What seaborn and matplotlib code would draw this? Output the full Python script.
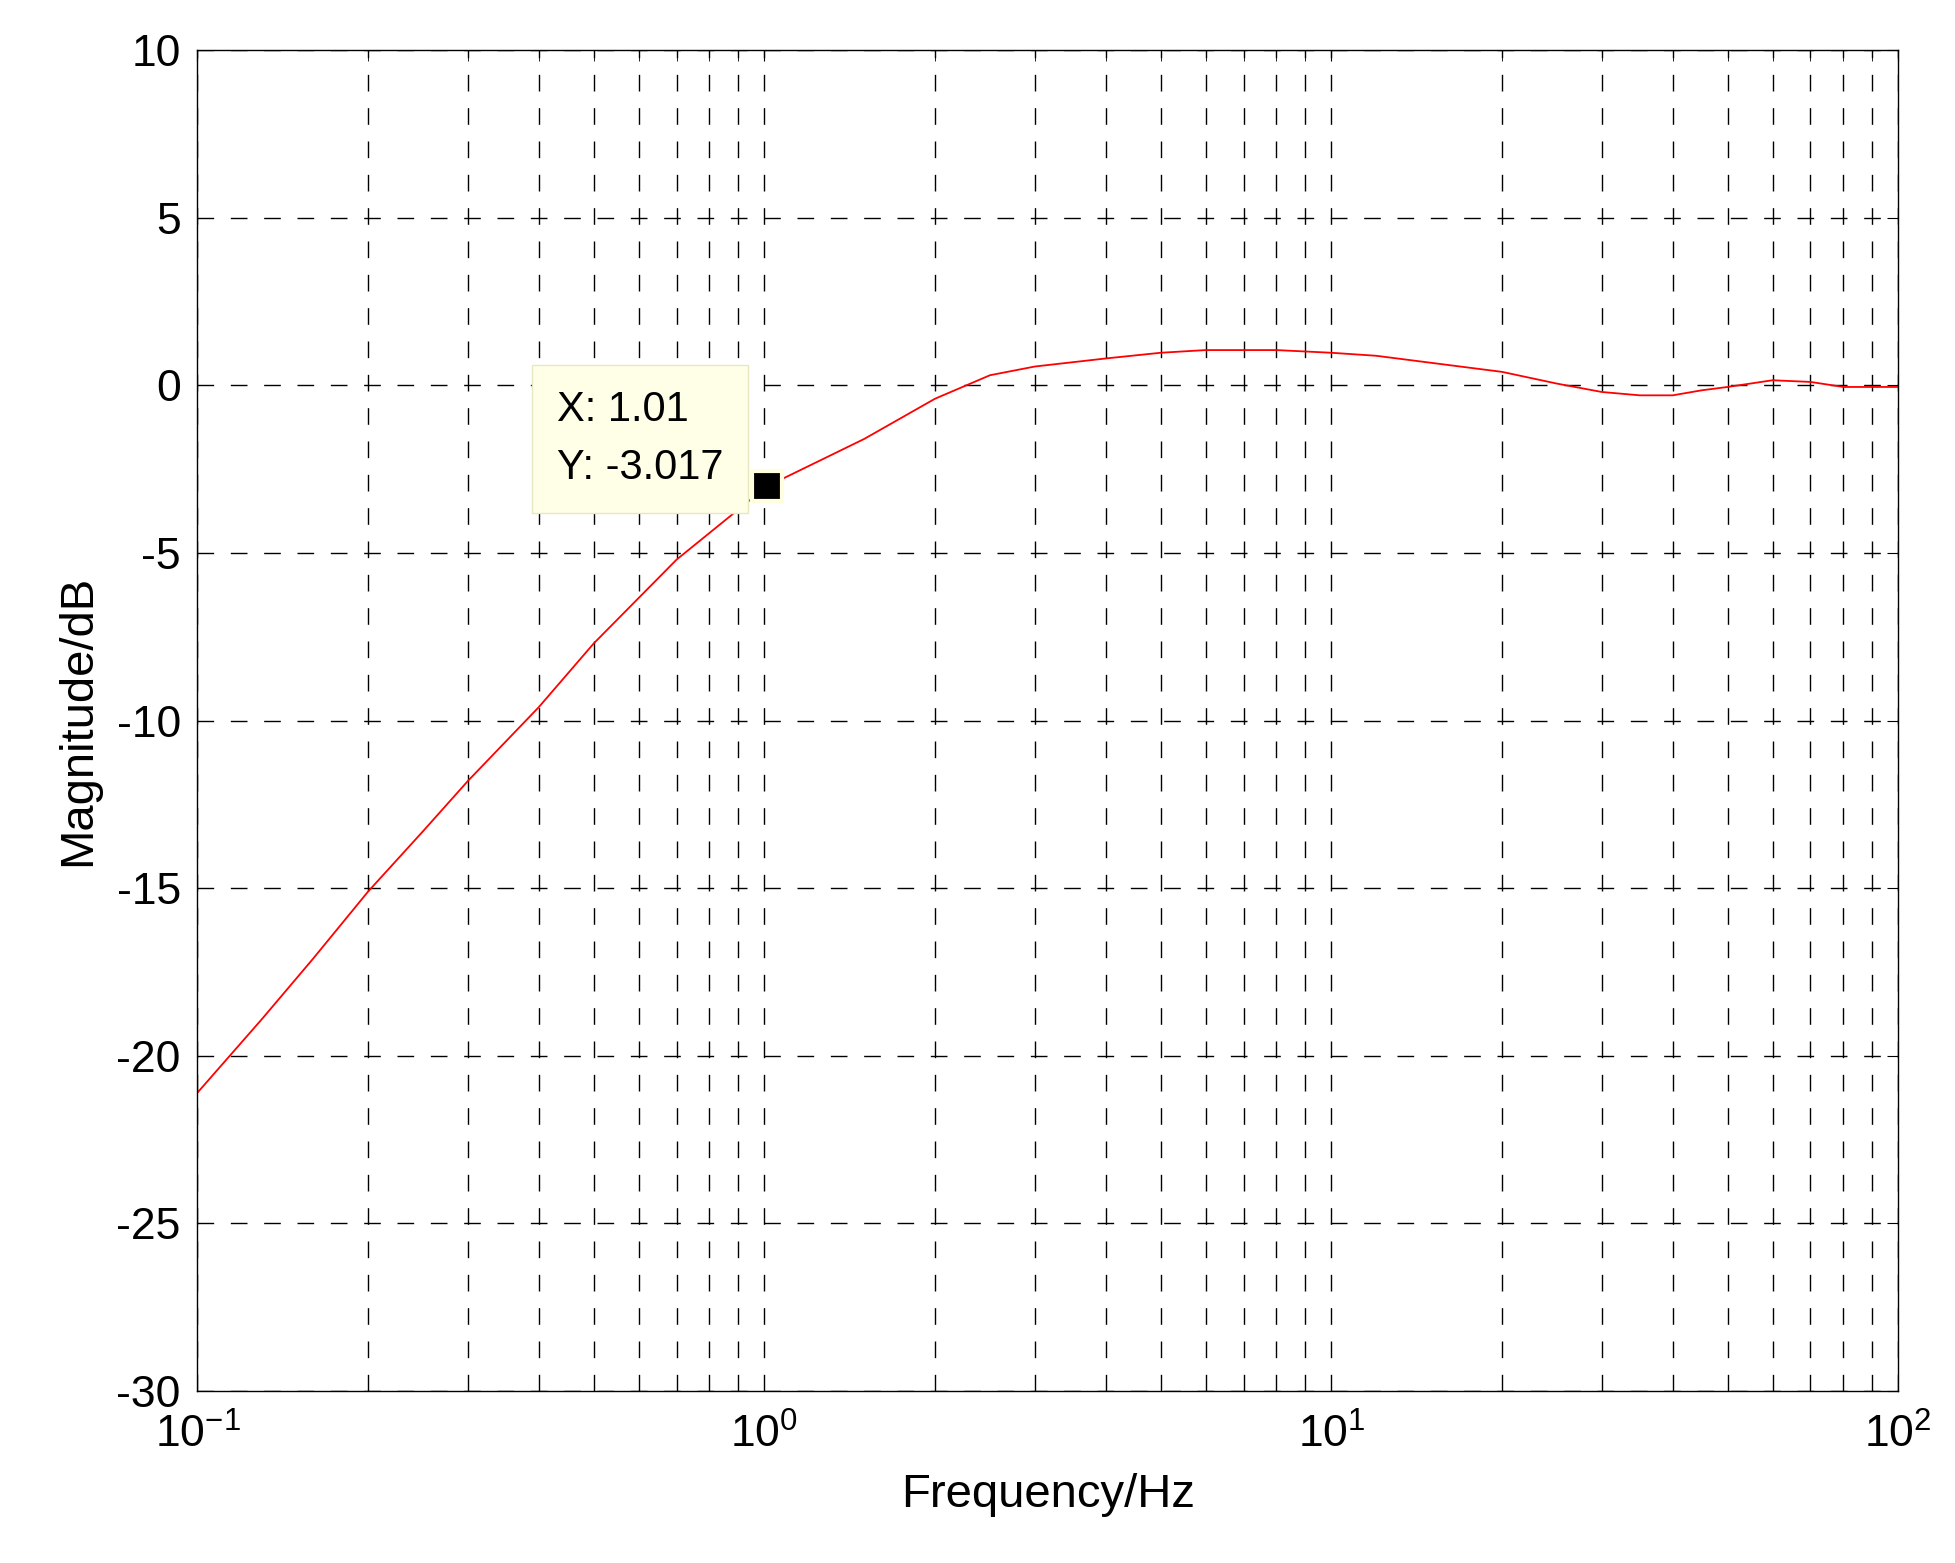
import matplotlib.pyplot as plt
import seaborn as sns
import numpy as np

sns.set_style("white")
plt.rcParams['font.family'] = ['Liberation Sans', 'DejaVu Sans']
plt.rcParams['axes.unicode_minus'] = False
plt.rcParams['text.color'] = 'black'
plt.rcParams['axes.labelcolor'] = 'black'
plt.rcParams['xtick.color'] = 'black'
plt.rcParams['ytick.color'] = 'black'

# magnitude response
freq = [0.1, 0.13, 0.16, 0.2, 0.25, 0.3, 0.4, 0.5, 0.7, 1.01, 1.5, 2.0, 2.5, 3.0, 4.0,
        5.0, 6.0, 8.0, 10.0, 12.0, 15.0, 20.0, 25.0, 30.0, 35.0, 40.0, 45.0, 50.0, 60.0,
        70.0, 80.0, 100.0]
mag = [-21.1, -18.9, -17.1, -15.1, -13.3, -11.8, -9.6, -7.7, -5.2, -3.017, -1.6, -0.4,
       0.3, 0.56, 0.8, 0.97, 1.05, 1.05, 0.97, 0.88, 0.67, 0.4, 0.05, -0.2, -0.3, -0.3,
       -0.15, -0.05, 0.15, 0.1, -0.05, -0.05]
tip_x, tip_y = 1.01, -3.017

fig, ax = plt.subplots(figsize=(19.55, 15.63), dpi=100)
sns.lineplot(x=freq, y=mag, ax=ax, color='red', linewidth=1.3)
ax.set_xscale('log')
ax.set_xlim(0.1, 100)
ax.set_ylim(-30, 10)
ax.set_yticks(np.arange(-30, 11, 5))
ax.grid(True, which='both', axis='x', color='black', linestyle=(0, (12, 12)), linewidth=1)
ax.grid(True, which='major', axis='y', color='black', linestyle=(0, (12, 12)), linewidth=1)
for s in ax.spines.values():
    s.set_color('black')
    s.set_linewidth(1)
ax.tick_params(labelsize=32, direction='in', which='both', length=8, top=True, right=True)
ax.tick_params(axis='x', pad=16)
ax.tick_params(axis='y', pad=12)
ax.set_xlabel('Frequency/Hz', fontsize=34, labelpad=12)
ax.set_ylabel('Magnitude/dB', fontsize=34, labelpad=12)

# data tip
ax.plot([tip_x], [tip_y], marker='s', color='black', markersize=22, markeredgecolor='#ffffe0',
        markeredgewidth=3, zorder=5)
ax.text(0.43, -1.6, f'X: {tip_x}\nY: {tip_y}', fontsize=30, va='center', ha='left',
        linespacing=1.6,
        bbox=dict(boxstyle='square,pad=0.6', facecolor='#ffffe8', edgecolor='#e8e8c0'), zorder=6)

plt.subplots_adjust(left=0.101, right=0.971, top=0.968, bottom=0.11)
fig.savefig('out.png', dpi=100)
